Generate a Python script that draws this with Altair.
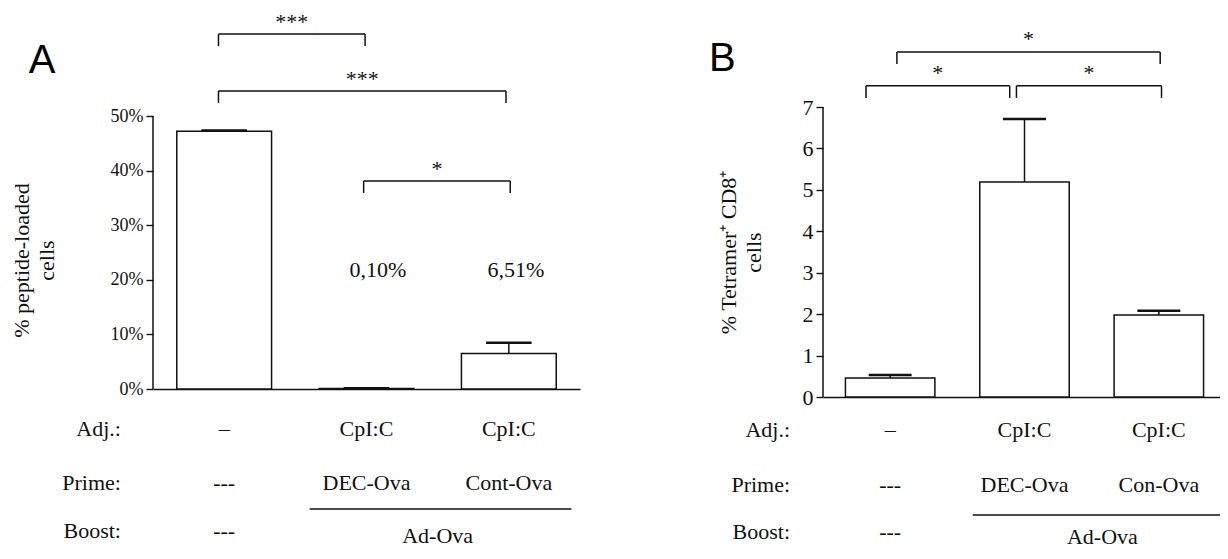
import altair as alt
import pandas as pd

SERIF = "Liberation Serif, Times New Roman, serif"
SANS = "Liberation Sans, Arial, sans-serif"
INK = "#111111"

# ---------------- data ----------------
positions = [1, 2, 3]
a_means = [47.2, 0.10, 6.51]
a_upper = [47.35, 0.16, 8.48]
b_means = [0.46, 5.19, 1.98]
b_upper = [0.53, 6.71, 2.08]

a_value_text = ["", "0,10%", "6,51%"]

row_names = ["Adj.:", "Prime:", "Boost:"]
a_adj = ["–", "CpI:C", "CpI:C"]
a_prime = ["---", "DEC-Ova", "Cont-Ova"]
b_adj = ["–", "CpI:C", "CpI:C"]
b_prime = ["---", "DEC-Ova", "Con-Ova"]
boost_first = "---"
boost_shared = "Ad-Ova"

# significance brackets: start group, end group, label
a_sig_from = [0.96, 0.96, 1.98]
a_sig_to = [1.99, 2.98, 3.01]
a_sig_text = ["***", "***", "*"]
b_sig_from = [1.05, 0.82, 1.94]
b_sig_to = [3.01, 1.89, 3.02]
b_sig_text = ["*", "*", "*"]

a_ticks = [0, 10, 20, 30, 40, 50]
b_ticks = [0, 1, 2, 3, 4, 5, 6, 7]

# ---------------- layout (style) ----------------
HALF_BAR = 0.333
HALF_CAP = 0.16

A = dict(width=427, height=282, ymax=51.65, tick_font=18,
         sig_levels=[65.0, 54.6, 38.1], drop=2.2, star_gap=0.9,
         value_y=20.5, value_dx=[0, 0.08, 0.05],
         row_y=[-8.6, -18.5, -27.3], shared_y=-28.2, line_y=-22.0,
         line_x=(1.6, 3.44), shared_x=2.5, head_x=0.275,
         letter="A", letter_x=-0.373, letter_y=57.9,
         title=["% peptide-loaded", "cells"], title_x=-125, title_y=153,
         label_expr="datum.value + '%'")
B = dict(width=403, height=290, ymax=7.0, tick_font=22,
         sig_levels=[8.33, 7.51, 7.51], drop=0.29, star_gap=0.15,
         row_y=[-0.965, -2.29, -3.43], shared_y=-3.55, line_y=-2.85,
         line_x=(1.615, 3.5), shared_x=2.58, head_x=0.255,
         letter="B", letter_x=-0.348, letter_y=7.87,
         title=["% Tetramer\u207a CD8\u207a", "cells"], title_x=-88, title_y=145,
         label_expr="datum.value + ''")


def panel(means, upper, sig_from, sig_to, sig_text, ticks, adj, prime, cfg, value_text=None):
    xs = alt.Scale(domain=[0.5, 3.5], nice=False, zero=False)
    ys = alt.Scale(domain=[0, cfg["ymax"]], nice=False, zero=False)

    def X(field, axis=None):
        if axis is None:
            return alt.X(field, type="quantitative", scale=xs)
        return alt.X(field, type="quantitative", scale=xs, axis=axis)

    def Y(field, axis=None):
        if axis is None:
            return alt.Y(field, type="quantitative", scale=ys)
        return alt.Y(field, type="quantitative", scale=ys, axis=axis)

    bars_df = pd.DataFrame({
        "pos": positions, "mean": means, "upper": upper,
    })
    bars_df["x0"] = bars_df["pos"] - HALF_BAR
    bars_df["x1"] = bars_df["pos"] + HALF_BAR
    bars_df["c0"] = bars_df["pos"] - HALF_CAP
    bars_df["c1"] = bars_df["pos"] + HALF_CAP
    bars_df["zero"] = 0.0

    x_axis = alt.Axis(labels=False, ticks=False, domain=True, grid=False, title=None,
                      domainColor=INK, domainWidth=1.5)
    y_axis = alt.Axis(values=ticks, labelExpr=cfg["label_expr"], domain=False, grid=False,
                      tickSize=7, tickWidth=1.4, tickColor=INK, labelPadding=3,
                      labelFont=SERIF, labelFontSize=cfg["tick_font"], labelColor=INK,
                      title=cfg["title"], titleFont=SERIF, titleFontSize=22,
                      titleFontWeight="normal", titleColor=INK, titleAngle=270,
                      titleAlign="center", titleBaseline="alphabetic",
                      titleLineHeight=25, titleX=cfg["title_x"], titleY=cfg["title_y"])

    bars = alt.Chart(bars_df).mark_bar(fill="white", stroke=INK, strokeWidth=1.5).encode(
        x=X("x0", x_axis), x2="x1", y=Y("mean", y_axis), y2="zero")
    stems = alt.Chart(bars_df).mark_rule(color=INK, strokeWidth=1.5).encode(
        x=X("pos"), y=Y("mean"), y2="upper")
    caps = alt.Chart(bars_df).mark_rule(color=INK, strokeWidth=2.5).encode(
        x=X("c0"), x2="c1", y=Y("upper"))

    # y axis line from lowest to highest tick
    yline_df = pd.DataFrame({"x": [0.5], "lo": [min(ticks)], "hi": [max(ticks)]})
    yline = alt.Chart(yline_df).mark_rule(color=INK, strokeWidth=1.5).encode(
        x=X("x"), y=Y("lo"), y2="hi")

    sig_df = pd.DataFrame({"a": sig_from, "b": sig_to, "text": sig_text,
                           "level": cfg["sig_levels"]})
    sig_df["foot"] = sig_df["level"] - cfg["drop"]
    sig_df["mid"] = (sig_df["a"] + sig_df["b"]) / 2
    sig_df["ty"] = sig_df["level"] + cfg["star_gap"]
    brk_h = alt.Chart(sig_df).mark_rule(color=INK, strokeWidth=1.5).encode(
        x=X("a"), x2="b", y=Y("level"))
    brk_l = alt.Chart(sig_df).mark_rule(color=INK, strokeWidth=1.5).encode(
        x=X("a"), y=Y("level"), y2="foot")
    brk_r = alt.Chart(sig_df).mark_rule(color=INK, strokeWidth=1.5).encode(
        x=X("b"), y=Y("level"), y2="foot")
    stars = alt.Chart(sig_df).mark_text(font=SERIF, fontSize=22, color=INK,
                                        baseline="alphabetic", align="center").encode(
        x=X("mid"), y=Y("ty"), text="text:N")

    # table of treatments under the bars
    rows = []
    for r, name in enumerate(row_names):
        rows.append({"x": cfg["head_x"], "y": cfg["row_y"][r], "text": name, "al": "r"})
    for i, p in enumerate(positions):
        rows.append({"x": p, "y": cfg["row_y"][0], "text": adj[i], "al": "c"})
        rows.append({"x": p, "y": cfg["row_y"][1], "text": prime[i], "al": "c"})
    rows.append({"x": positions[0], "y": cfg["row_y"][2], "text": boost_first, "al": "c"})
    rows.append({"x": cfg["shared_x"], "y": cfg["shared_y"], "text": boost_shared, "al": "c"})
    rows_df = pd.DataFrame(rows)
    heads = alt.Chart(rows_df[rows_df["al"] == "r"]).mark_text(
        font=SERIF, fontSize=22, color=INK, align="right", baseline="alphabetic").encode(
        x=X("x"), y=Y("y"), text="text:N")
    cells = alt.Chart(rows_df[rows_df["al"] == "c"]).mark_text(
        font=SERIF, fontSize=22, color=INK, align="center", baseline="alphabetic").encode(
        x=X("x"), y=Y("y"), text="text:N")

    line_df = pd.DataFrame({"a": [cfg["line_x"][0]], "b": [cfg["line_x"][1]], "y": [cfg["line_y"]]})
    group_line = alt.Chart(line_df).mark_rule(color=INK, strokeWidth=1.5).encode(
        x=X("a"), x2="b", y=Y("y"))

    letter_df = pd.DataFrame({"x": [cfg["letter_x"]], "y": [cfg["letter_y"]], "t": [cfg["letter"]]})
    letter = alt.Chart(letter_df).mark_text(font=SANS, fontSize=40, color="black",
                                            align="left", baseline="alphabetic").encode(
        x=X("x"), y=Y("y"), text="t:N")

    layers = [bars, stems, caps, yline, brk_h, brk_l, brk_r, stars, heads, cells,
              group_line, letter]

    if value_text is not None:
        val_df = pd.DataFrame({"pos": positions, "text": value_text})
        val_df["x"] = val_df["pos"] + pd.Series(cfg["value_dx"])
        val_df["y"] = cfg["value_y"]
        val_df = val_df[val_df["text"] != ""]
        vals = alt.Chart(val_df).mark_text(font=SERIF, fontSize=22, color=INK,
                                           align="center", baseline="alphabetic").encode(
            x=X("x"), y=Y("y"), text="text:N")
        layers.append(vals)

    return alt.layer(*layers).properties(width=cfg["width"], height=cfg["height"])


panel_a = panel(a_means, a_upper, a_sig_from, a_sig_to, a_sig_text, a_ticks,
                a_adj, a_prime, A, value_text=a_value_text)
panel_b = panel(b_means, b_upper, b_sig_from, b_sig_to, b_sig_text, b_ticks,
                b_adj, b_prime, B)

chart = alt.hconcat(panel_a, panel_b, spacing=243, bounds="flush").properties(
    padding={"left": 2, "top": 3, "right": -7, "bottom": 0},
    background="white"
).configure_view(strokeWidth=0)

chart.save("out.html", embed_options={"renderer": "svg", "actions": False})
